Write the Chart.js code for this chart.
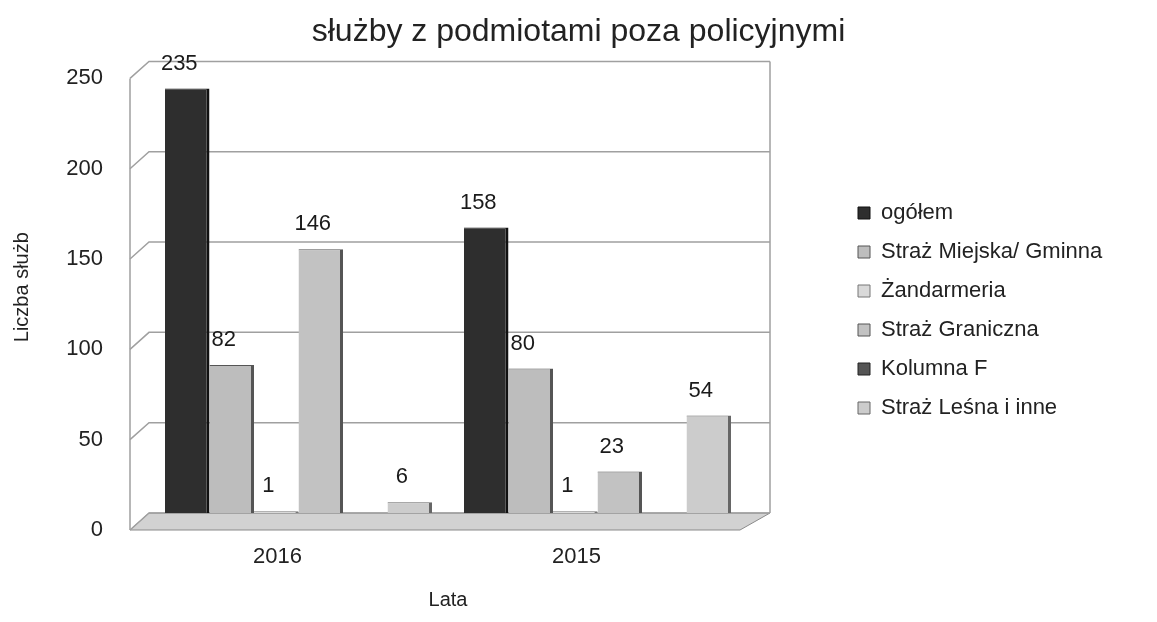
<!DOCTYPE html>
<html><head>
<meta charset="UTF-8">
<title>Służby z podmiotami poza policyjnymi</title>
<script src="https://cdn.jsdelivr.net/npm/chart.js"></script>
<style>
    body {
        margin: 0;
        padding: 0;
        background: #fff;
    }
    .wrap {
        width: 1157px;
        height: 622px;
    }
</style>
</head>
<body>
<div class="wrap"><canvas id="sluzbyChart" width="1157" height="622"></canvas></div>
<script>
    // Data
    const years = ['2016', '2015'];
    const ogolem = [235, 158];
    const strazMiejska = [82, 80];
    const zandarmeria = [1, 1];
    const strazGraniczna = [146, 23];
    const kolumnaF = [null, null];
    const strazLesna = [6, 54];
    const yTicks = [0, 50, 100, 150, 200, 250];

    const FONT = "'Liberation Sans', Arial, sans-serif";
    const depth = 19; // fake 3d depth of the walls

    // back wall, left wall and floor, all taken from the chart area and y scale
    const walls = {
        id: 'walls',
        beforeDatasetsDraw(chart) {
            const { ctx, chartArea: a, scales: { y } } = chart;
            ctx.save();
            ctx.fillStyle = '#d2d2d2';
            ctx.strokeStyle = '#8a8a8a';
            ctx.lineWidth = 1;
            ctx.beginPath();
            ctx.moveTo(a.left - depth, a.bottom + 17);
            ctx.lineTo(a.right - 7, a.bottom + 17);
            ctx.lineTo(a.right + 23, a.bottom);
            ctx.lineTo(a.left, a.bottom);
            ctx.closePath();
            ctx.fill();
            ctx.stroke();

            ctx.strokeStyle = '#a0a0a0';
            ctx.lineWidth = 1.5;
            y.ticks.forEach(t => {
                const py = y.getPixelForValue(t.value);
                ctx.beginPath();
                ctx.moveTo(a.left - depth, py + 17);
                ctx.lineTo(a.left, py);
                ctx.lineTo(a.right + 23, py);
                ctx.stroke();
            });
            ctx.beginPath();
            ctx.moveTo(a.left - depth, a.top + 17);
            ctx.lineTo(a.left - depth, a.bottom + 17);
            ctx.moveTo(a.right + 23, a.top);
            ctx.lineTo(a.right + 23, a.bottom);
            ctx.stroke();
            ctx.restore();
        }
    };

    // numbers over the bars
    const valueLabels = {
        id: 'valueLabels',
        afterDatasetsDraw(chart) {
            const ctx = chart.ctx;
            ctx.save();
            ctx.font = '22px ' + FONT;
            ctx.fillStyle = '#1a1a1a';
            ctx.textAlign = 'center';
            ctx.textBaseline = 'middle';
            chart.data.datasets.forEach((ds, i) => {
                chart.getDatasetMeta(i).data.forEach((bar, j) => {
                    if (ds.data[j] == null) return;
                    ctx.fillText(ds.data[j], bar.x - 8, bar.y - 25);
                });
            });
            ctx.restore();
        }
    };

    // legend sits away from the plot, like in the original
    const legendPlacement = {
        id: 'legendPlacement',
        afterInit(chart) {
            const legend = chart.legend;
            const fit = legend.fit;
            legend.fit = function () {
                fit.call(this);
                this.width = 410;
            };
        },
        afterLayout(chart) {
            chart.legend.left = 841;
            chart.legend.top = 185;
        }
    };

    function bars(label, data, color, edge) {
        return {
            label: label,
            data: data,
            backgroundColor: color,
            borderColor: edge,
            borderWidth: { top: 1, right: 3, left: 0, bottom: 0 },
            barPercentage: 1,
            categoryPercentage: 0.893
        };
    }

    new Chart(document.getElementById('sluzbyChart'), {
        type: 'bar',
        data: {
            labels: years,
            datasets: [
                bars('ogółem', ogolem, '#2e2e2e', '#111'),
                bars('Straż Miejska/ Gminna', strazMiejska, '#bdbdbd', '#555'),
                bars('Żandarmeria', zandarmeria, '#d9d9d9', '#777'),
                bars('Straż Graniczna', strazGraniczna, '#c2c2c2', '#555'),
                bars('Kolumna F', kolumnaF, '#555555', '#222'),
                bars('Straż Leśna i inne', strazLesna, '#cccccc', '#666')
            ]
        },
        options: {
            responsive: false,
            animation: false,
            devicePixelRatio: 1,
            layout: { padding: 0 },
            scales: {
                x: {
                    grid: { display: false, drawTicks: false },
                    border: { display: false },
                    ticks: { padding: 31, labelOffset: -21, color: '#222', font: { family: FONT, size: 22 } },
                    title: {
                        display: true,
                        text: 'Lata',
                        color: '#222',
                        font: { family: FONT, size: 20 },
                        padding: { top: 0, bottom: 10 }
                    },
                    afterFit: s => { s.height = 109; }
                },
                y: {
                    min: 0,
                    max: 250,
                    afterBuildTicks: s => { s.ticks = yTicks.map(v => ({ value: v })); },
                    grid: { display: false, drawTicks: false },
                    border: { display: false },
                    ticks: { padding: 46, labelOffset: 17, color: '#222', font: { family: FONT, size: 22 } },
                    title: {
                        display: true,
                        text: 'Liczba służb',
                        color: '#222',
                        font: { family: FONT, size: 20 },
                        padding: { top: 10, bottom: 0 }
                    },
                    afterFit: s => { s.width = 149; }
                }
            },
            plugins: {
                title: {
                    display: true,
                    text: 'służby z podmiotami poza policyjnymi',
                    color: '#222',
                    font: { family: FONT, size: 32, weight: 'normal' },
                    padding: { top: 13, bottom: 10 }
                },
                legend: {
                    position: 'right',
                    align: 'start',
                    labels: {
                        boxWidth: 12,
                        boxHeight: 12,
                        padding: 17,
                        color: '#222',
                        font: { family: FONT, size: 22 }
                    }
                },
                tooltip: { enabled: false }
            }
        },
        plugins: [walls, valueLabels, legendPlacement]
    });
</script>
</body></html>
